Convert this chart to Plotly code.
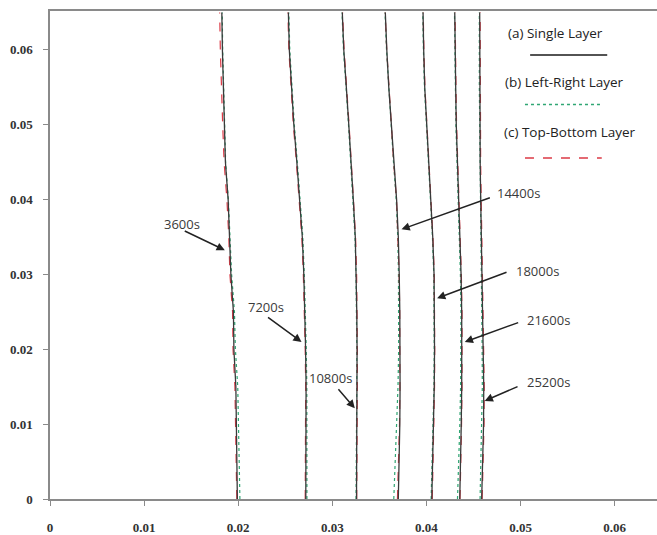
import plotly.graph_objects as go

# shared vertical positions (y) for all profiles
y_levels = [0, 0.005, 0.01, 0.015, 0.02, 0.025, 0.03, 0.035, 0.04, 0.045, 0.05, 0.055, 0.06, 0.065]

times = ["3600s", "7200s", "10800s", "14400s", "18000s", "21600s", "25200s"]

single_3600 = [0.01991, 0.01986, 0.01980, 0.01975, 0.01954, 0.01949, 0.01922, 0.01911, 0.01893, 0.01864, 0.01853, 0.01840, 0.01832, 0.01826]
single_7200 = [0.02718, 0.02721, 0.02722, 0.02721, 0.02716, 0.02708, 0.02697, 0.02681, 0.02655, 0.02623, 0.02591, 0.02565, 0.02543, 0.02533]
single_10800 = [0.03257, 0.03260, 0.03262, 0.03263, 0.03263, 0.03260, 0.03255, 0.03244, 0.03223, 0.03202, 0.03175, 0.03149, 0.03122, 0.03106]
single_14400 = [0.03701, 0.03711, 0.03717, 0.03720, 0.03720, 0.03717, 0.03711, 0.03701, 0.03683, 0.03653, 0.03627, 0.03600, 0.03579, 0.03563]
single_18000 = [0.04057, 0.04067, 0.04078, 0.04083, 0.04086, 0.04086, 0.04081, 0.04067, 0.04046, 0.04019, 0.03998, 0.03982, 0.03971, 0.03964]
single_21600 = [0.04354, 0.04364, 0.04370, 0.04375, 0.04378, 0.04375, 0.04368, 0.04354, 0.04341, 0.04327, 0.04317, 0.04311, 0.04306, 0.04301]
single_25200 = [0.04587, 0.04598, 0.04607, 0.04609, 0.04604, 0.04598, 0.04591, 0.04582, 0.04577, 0.04571, 0.04569, 0.04566, 0.04566, 0.04566]

lr_3600 = [0.02018, 0.02010, 0.02002, 0.01995, 0.01970, 0.01960, 0.01930, 0.01915, 0.01895, 0.01866, 0.01855, 0.01843, 0.01835, 0.01830]
lr_7200 = [0.02730, 0.02732, 0.02731, 0.02729, 0.02723, 0.02714, 0.02702, 0.02686, 0.02660, 0.02628, 0.02596, 0.02570, 0.02548, 0.02538]
lr_10800 = [0.03252, 0.03256, 0.03259, 0.03260, 0.03260, 0.03257, 0.03252, 0.03241, 0.03220, 0.03199, 0.03172, 0.03146, 0.03119, 0.03103]
lr_14400 = [0.03653, 0.03668, 0.03685, 0.03698, 0.03705, 0.03706, 0.03703, 0.03695, 0.03679, 0.03650, 0.03624, 0.03597, 0.03576, 0.03560]
lr_18000 = [0.04050, 0.04062, 0.04074, 0.04080, 0.04083, 0.04083, 0.04078, 0.04064, 0.04043, 0.04016, 0.03995, 0.03979, 0.03968, 0.03961]
lr_21600 = [0.04330, 0.04345, 0.04355, 0.04363, 0.04368, 0.04367, 0.04361, 0.04348, 0.04336, 0.04323, 0.04313, 0.04308, 0.04303, 0.04298]
lr_25200 = [0.04570, 0.04580, 0.04590, 0.04594, 0.04592, 0.04588, 0.04582, 0.04575, 0.04571, 0.04566, 0.04564, 0.04562, 0.04562, 0.04562]

tb_3600 = [0.01985, 0.01980, 0.01972, 0.01965, 0.01945, 0.01940, 0.01912, 0.01900, 0.01880, 0.01850, 0.01835, 0.01820, 0.01810, 0.01803]
tb_7200 = [0.02712, 0.02716, 0.02718, 0.02717, 0.02712, 0.02704, 0.02692, 0.02676, 0.02650, 0.02618, 0.02586, 0.02560, 0.02538, 0.02528]
tb_10800 = [0.03259, 0.03263, 0.03265, 0.03266, 0.03266, 0.03263, 0.03258, 0.03247, 0.03226, 0.03205, 0.03178, 0.03152, 0.03125, 0.03109]
tb_14400 = [0.03692, 0.03706, 0.03714, 0.03718, 0.03719, 0.03716, 0.03710, 0.03700, 0.03682, 0.03652, 0.03626, 0.03599, 0.03578, 0.03562]
tb_18000 = [0.04062, 0.04072, 0.04081, 0.04086, 0.04088, 0.04088, 0.04083, 0.04069, 0.04048, 0.04021, 0.04000, 0.03984, 0.03973, 0.03966]
tb_21600 = [0.04357, 0.04367, 0.04373, 0.04378, 0.04381, 0.04378, 0.04371, 0.04357, 0.04344, 0.04330, 0.04320, 0.04314, 0.04309, 0.04304]
tb_25200 = [0.04592, 0.04603, 0.04612, 0.04614, 0.04609, 0.04603, 0.04596, 0.04587, 0.04582, 0.04576, 0.04574, 0.04571, 0.04571, 0.04571]

single = [single_3600, single_7200, single_10800, single_14400, single_18000, single_21600, single_25200]
left_right = [lr_3600, lr_7200, lr_10800, lr_14400, lr_18000, lr_21600, lr_25200]
top_bottom = [tb_3600, tb_7200, tb_10800, tb_14400, tb_18000, tb_21600, tb_25200]

x_ticks = [0, 0.01, 0.02, 0.03, 0.04, 0.05, 0.06]
x_tick_labels = ["0", "0.01", "0.02", "0.03", "0.04", "0.05", "0.06"]
y_ticks = [0, 0.01, 0.02, 0.03, 0.04, 0.05, 0.06]
y_tick_labels = ["0", "0.01", "0.02", "0.03", "0.04", "0.05", "0.06"]

BLACK = "#3a3a3a"
GREEN = "#2fa673"
RED = "#dc3a46"

fig = go.Figure()
for t, xs in zip(times, left_right):
    fig.add_trace(go.Scatter(x=xs, y=y_levels, mode="lines", name="(b) Left-Right Layer " + t,
                             line=dict(color=GREEN, width=1.2, dash="dot"), showlegend=False))
for t, xs in zip(times, top_bottom):
    fig.add_trace(go.Scatter(x=xs, y=y_levels, mode="lines", name="(c) Top-Bottom Layer " + t,
                             line=dict(color=RED, width=1.2, dash="dash"), showlegend=False))
for t, xs in zip(times, single):
    fig.add_trace(go.Scatter(x=xs, y=y_levels, mode="lines", name="(a) Single Layer " + t,
                             line=dict(color=BLACK, width=1.3), showlegend=False))

# time labels with arrows: (label, text pos, arrow tail, arrow head)
labels = [
    ("3600s", (0.01399, 0.03679), (0.01416, 0.03590), (0.01858, 0.03324)),
    ("7200s", (0.02294, 0.02563), (0.02301, 0.02440), (0.02673, 0.02098)),
    ("10800s", (0.02981, 0.01620), (0.03051, 0.01487), (0.03239, 0.01212)),
    ("14400s", (0.04973, 0.04090), (0.04690, 0.04033), (0.03735, 0.03603)),
    ("18000s", (0.05182, 0.03045), (0.04867, 0.03037), (0.04113, 0.02683)),
    ("21600s", (0.05299, 0.02394), (0.04991, 0.02364), (0.04407, 0.02098)),
    ("25200s", (0.05299, 0.01567), (0.04984, 0.01510), (0.04619, 0.01311)),
]
ann_font = dict(family="Open Sans, Noto Sans, sans-serif", size=13, color="#3a3a3a")
for txt, tp, tail, head in labels:
    fig.add_annotation(x=tp[0], y=tp[1], xref="x", yref="y", text=txt, showarrow=False,
                       font=ann_font, xanchor="center", yanchor="middle")
    fig.add_annotation(x=head[0], y=head[1], ax=tail[0], ay=tail[1], xref="x", yref="y",
                       axref="x", ayref="y", text="", showarrow=True, arrowhead=2,
                       arrowsize=1.1, arrowwidth=1.5, arrowcolor="#222222")

# custom legend (text above line sample)
leg_font = dict(family="Open Sans, Noto Sans, sans-serif", size=13.5, color="#222222")
legend_items = [
    ("(a) Single Layer", 0.832, 0.955, 0.791, 0.918, 0.910, "#1a1a1a", "solid"),
    ("(b) Left-Right Layer", 0.848, 0.855, 0.7825, 0.911, 0.8086, GREEN, "dot"),
    ("(c) Top-Bottom Layer", 0.857, 0.7515, 0.7825, 0.909, 0.6986, RED, "dash"),
]
for txt, tx, ty, x0, x1, ly, col, dash in legend_items:
    fig.add_annotation(x=tx, y=ty, xref="paper", yref="paper", text=txt, showarrow=False,
                       font=leg_font, xanchor="center", yanchor="middle")
    fig.add_shape(type="line", xref="paper", yref="paper", x0=x0, x1=x1, y0=ly, y1=ly,
                  line=dict(color=col, width=1.5, dash=dash))

tick_font = dict(family="Liberation Serif, serif", size=13, color="#333333", weight="bold")
fig.update_xaxes(range=[0, 0.0645], tickvals=x_ticks, ticktext=x_tick_labels, showgrid=False,
                 zeroline=False, showline=True, linecolor="#8a8a8a", linewidth=1.5, mirror=True,
                 ticks="outside", ticklen=5, tickcolor="#8a8a8a", tickwidth=1.2,
                 tickfont=tick_font, ticklabelstandoff=11)
fig.update_yaxes(range=[0, 0.0652], tickvals=y_ticks, ticktext=y_tick_labels, showgrid=False,
                 zeroline=False, showline=True, linecolor="#8a8a8a", linewidth=1.5, mirror=False,
                 ticks="outside", ticklen=5, tickcolor="#8a8a8a", tickwidth=1.2,
                 tickfont=tick_font, ticklabelstandoff=8)
fig.update_layout(width=657, height=535, margin=dict(l=50, r=0, t=11, b=33),
                  plot_bgcolor="white", paper_bgcolor="white", showlegend=False)

fig.write_html("out.html")
